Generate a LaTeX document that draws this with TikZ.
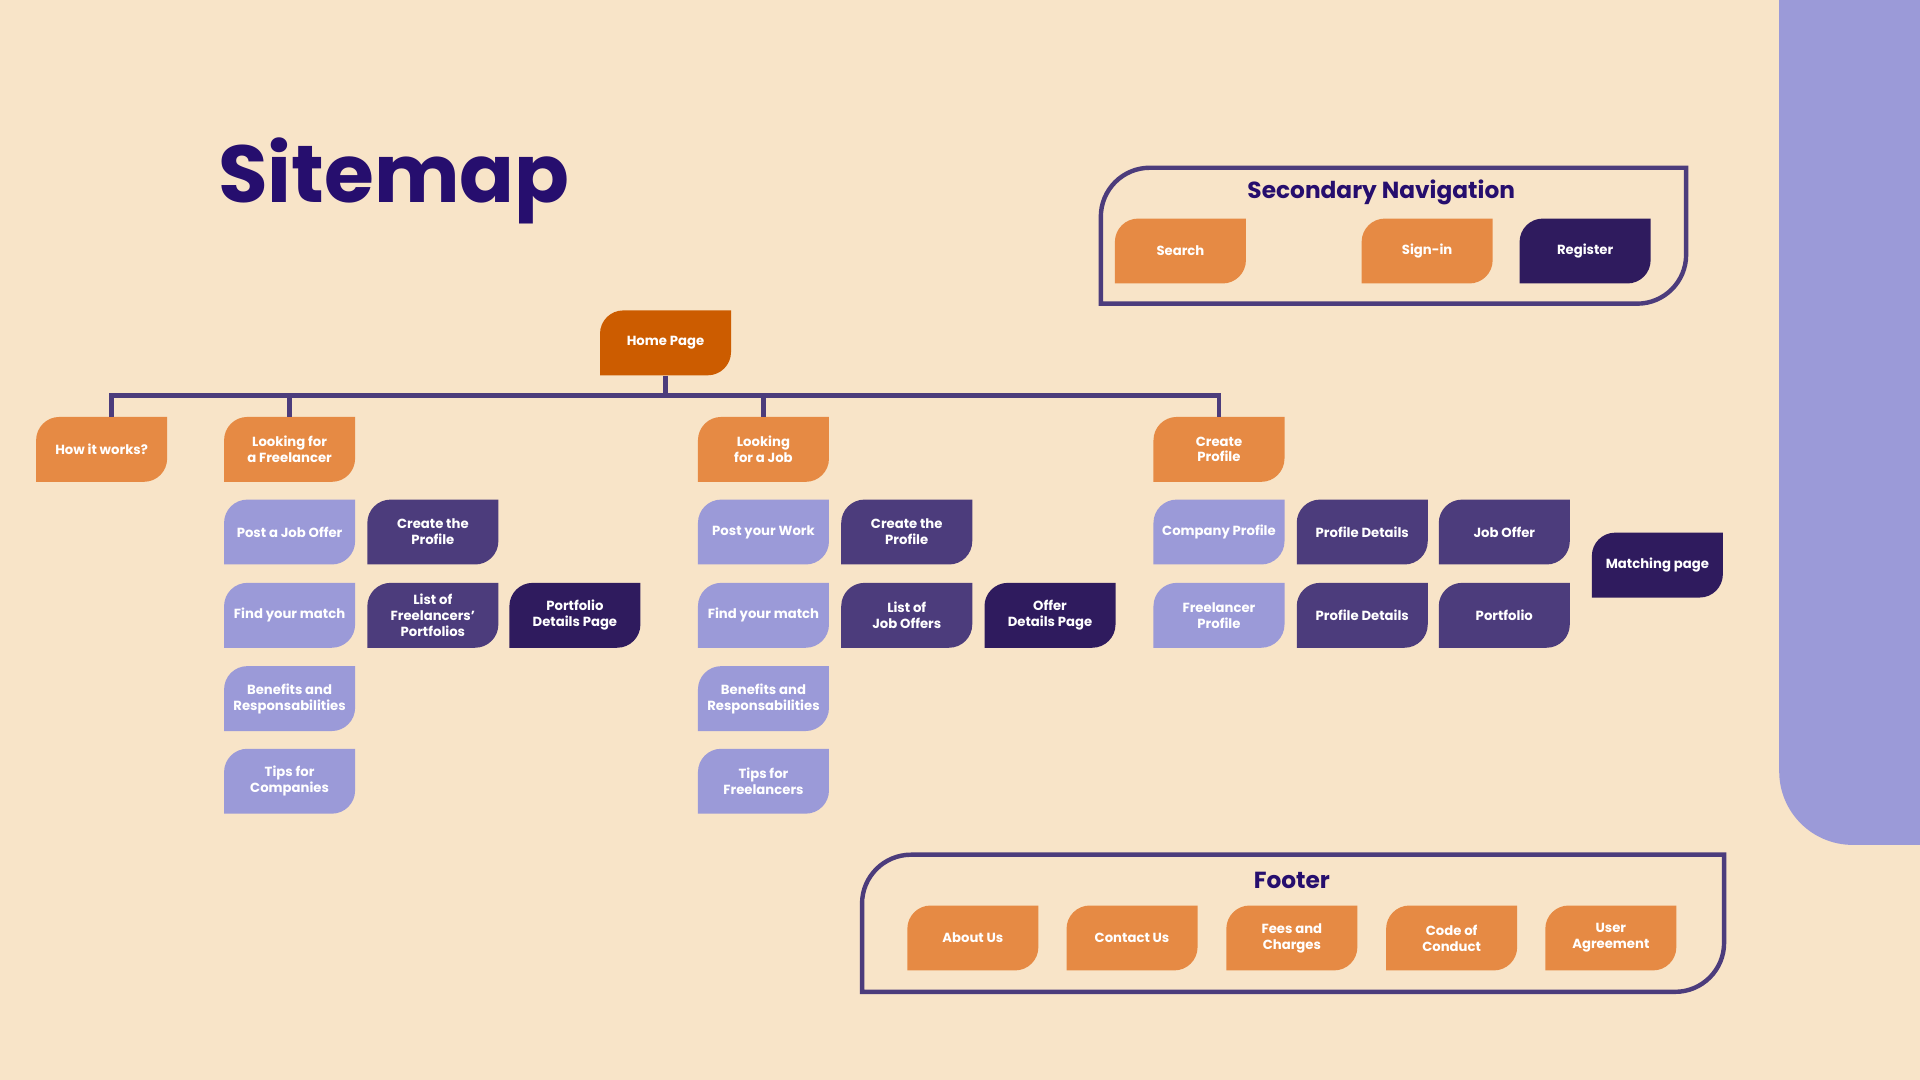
\documentclass[tikz,border=0pt]{standalone}
\usepackage{fontspec}
\setmainfont{Poppins}
\usepackage{xcolor}
\usepackage{tikz}
\usetikzlibrary{positioning,calc}

\definecolor{paper}{HTML}{F8E4C8}
\definecolor{lilac}{HTML}{9B9AD8}
\definecolor{ink}{HTML}{260E6E}
\definecolor{tang}{HTML}{E68A44}
\definecolor{rust}{HTML}{CC5C00}
\definecolor{plum}{HTML}{4C3C7C}
\definecolor{night}{HTML}{2F1B5E}

\begin{document}
\begin{tikzpicture}[x=1pt, y=-1pt]
  % Define styles
  \tikzstyle{pagebox} = [minimum width=107pt, minimum height=53pt, inner sep=0pt, align=center, text=white, font=\fontsize{10.8}{13}\selectfont\bfseries,
    path picture={\fill[#1] (path picture bounding box.south west) -- ([yshift=-19pt]path picture bounding box.north west) arc[start angle=180, end angle=90, radius=19pt] -- (path picture bounding box.north east) -- ([yshift=19pt]path picture bounding box.south east) arc[start angle=0, end angle=-90, radius=19pt] -- cycle;}]
  \tikzstyle{branch} = [line width=3.6pt, draw=plum, line join=miter]
  \tikzstyle{navframe} = [line width=3.6pt, draw=plum]
  \tikzstyle{navtitle} = [text=ink, font=\fontsize{19}{23}\selectfont\bfseries, inner sep=0pt]

  % Canvas
  \fill [paper] (0,0) rectangle (1568,882);
  \useasboundingbox (0,0) rectangle (1568,882);
  \fill [lilac] (1453,0) -- (1568,0) -- (1568,690) -- (1513,690) arc[start angle=-90, end angle=-180, radius=60pt] -- cycle;

  % Title
  \node [anchor=base west, inner sep=0pt, text=ink, font=\fontsize{66}{74}\selectfont\bfseries] (title) at (178,165) {Sitemap};

  % Home and first level
  \node [pagebox=rust] (home) at (543.5,280) {Home Page};
  \node [pagebox=tang] (how) at (83,367) {How it works?};
  \node [pagebox=tang] (hire) at (236.5,367) {Looking for\\a Freelancer};
  \node [pagebox=tang] (work) at (623.5,367) {Looking\\for a Job};
  \node [pagebox=tang] (prof) at (995.5,367) {Create\\Profile};

  % Tree lines
  \coordinate (bus) at (91,323);
  \draw [branch] (home.south) -- (home.south |- bus);
  \draw [branch] (bus |- how.north) -- (bus) -- (prof.north |- bus) -- (prof.north);
  \draw [branch] (hire.north) -- (hire.north |- bus);
  \draw [branch] (work.north) -- (work.north |- bus);

  % Looking for a Freelancer
  \node [pagebox=lilac] (hire1) at (236.5,434.5) {Post a Job Offer};
  \node [pagebox=lilac] (hire2) at (236.5,502.5) {Find your match};
  \node [pagebox=lilac] (hire3) at (236.5,570.5) {Benefits and\\Responsabilities};
  \node [pagebox=lilac] (hire4) at (236.5,638) {Tips for\\Companies};
  \node [pagebox=plum] (hireprof) at (353.5,434.5) {Create the\\Profile};
  \node [pagebox=plum] (hirelist) at (353.5,502.5) {List of\\Freelancers’\\Portfolios};
  \node [pagebox=night] (hiredet) at (469.5,502.5) {Portfolio\\Details Page};

  % Looking for a Job
  \node [pagebox=lilac] (work1) at (623.5,434.5) {Post your Work};
  \node [pagebox=lilac] (work2) at (623.5,502.5) {Find your match};
  \node [pagebox=lilac] (work3) at (623.5,570.5) {Benefits and\\Responsabilities};
  \node [pagebox=lilac] (work4) at (623.5,638) {Tips for\\Freelancers};
  \node [pagebox=plum] (workprof) at (740.5,434.5) {Create the\\Profile};
  \node [pagebox=plum] (worklist) at (740.5,502.5) {List of\\Job Offers};
  \node [pagebox=night] (workdet) at (857.5,502.5) {Offer\\Details Page};

  % Create Profile
  \node [pagebox=lilac] (comp) at (995.5,434.5) {Company Profile};
  \node [pagebox=lilac] (free) at (995.5,502.5) {Freelancer\\Profile};
  \node [pagebox=plum] (compdet) at (1112.5,434.5) {Profile Details};
  \node [pagebox=plum] (freedet) at (1112.5,502.5) {Profile Details};
  \node [pagebox=plum] (offer) at (1228.5,434.5) {Job Offer};
  \node [pagebox=plum] (folio) at (1228.5,502.5) {Portfolio};
  \node [pagebox=night] (match) at (1353.5,461.5) {Matching page};

  % Secondary navigation
  \draw [navframe] (899,248) -- (899,177) arc[start angle=180, end angle=90, radius=40pt] -- (1377,137) -- (1377,208) arc[start angle=0, end angle=-90, radius=40pt] -- cycle;
  \node [navtitle] (navhead) at (1128,157) {Secondary Navigation};
  \node [pagebox=tang] (search) at (964,205) {Search};
  \node [pagebox=tang] (signin) at (1165.5,205) {Sign-in};
  \node [pagebox=night] (register) at (1294.5,205) {Register};

  % Footer
  \draw [navframe] (704,810) -- (704,738) arc[start angle=180, end angle=90, radius=40pt] -- (1408,698) -- (1408,770) arc[start angle=0, end angle=-90, radius=40pt] -- cycle;
  \node [navtitle] (foothead) at (1055,719) {Footer};
  \node [pagebox=tang] (about) at (794.5,766) {About Us};
  \node [pagebox=tang] (contact) at (924.5,766) {Contact Us};
  \node [pagebox=tang] (fees) at (1055,766) {Fees and\\Charges};
  \node [pagebox=tang] (conduct) at (1185.5,766) {Code of\\Conduct};
  \node [pagebox=tang] (terms) at (1315.5,766) {User\\Agreement};
\end{tikzpicture}
\end{document}
